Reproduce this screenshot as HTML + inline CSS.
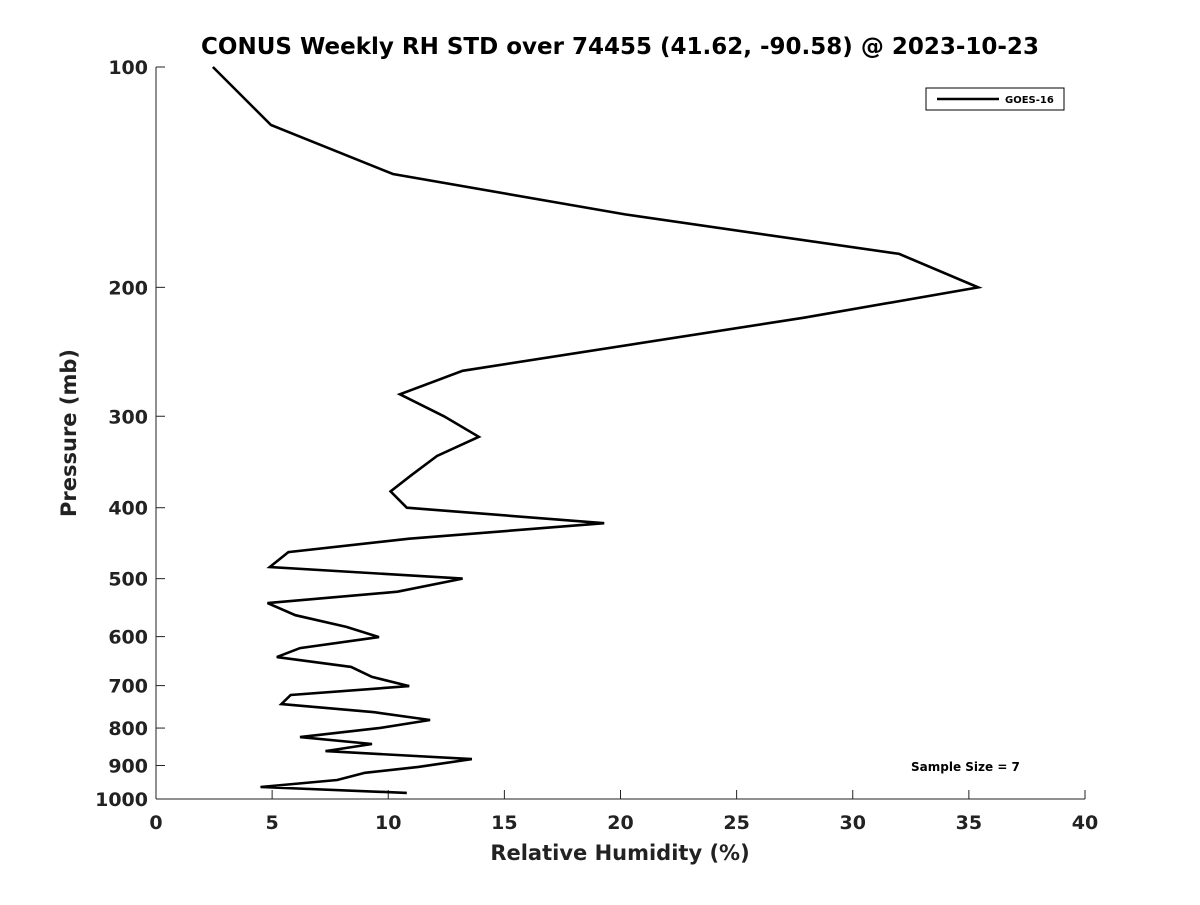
<!DOCTYPE html>
<html><head><meta charset="utf-8"><style>
body{margin:0;background:#fff}
svg text{font-family:"DejaVu Sans","Liberation Sans",sans-serif;font-weight:bold;fill:#222}
</style></head><body>
<svg id="chart" width="1200" height="900" xmlns="http://www.w3.org/2000/svg">
<rect width="1200" height="900" fill="#fff"/>
<text x="620" y="54" font-size="23" text-anchor="middle" style="fill:#000">CONUS Weekly RH STD over 74455 (41.62, -90.58) @ 2023-10-23</text>
<g id="axes"></g>
<text x="620" y="860" font-size="21" text-anchor="middle">Relative Humidity (%)</text>
<text transform="translate(76,433) rotate(-90)" font-size="21" text-anchor="middle">Pressure (mb)</text>
<g>
<rect x="926" y="88" width="138" height="22" fill="#fff" stroke="#000" stroke-width="1"/>
<line x1="937" y1="99" x2="999" y2="99" stroke="#000" stroke-width="2.5"/>
<text x="1005" y="103" font-size="10" style="fill:#000">GOES-16</text>
</g>
<text x="911" y="771" font-size="12" style="fill:#000">Sample Size = 7</text>
</svg>
<script>
const pressures=[100,120,140,159,180,200,220,260,280,300,320,340,361,380,400,420,441,460,482,500,521,540,561,582,601,622,640,660,681,701,721,742,761,780,800,823,841,860,882,904,921,942,963,981];
const rhValues=[2.45,4.95,10.2,20.2,32.0,35.4,27.9,13.2,10.5,12.4,13.9,12.1,11.0,10.1,10.8,19.3,10.9,5.7,4.9,13.2,10.4,4.8,6.0,8.2,9.6,6.2,5.2,8.4,9.3,10.9,5.8,5.4,9.4,11.8,9.6,6.2,9.3,7.3,13.6,11.3,9.0,7.8,4.5,10.8];
const xTicks=[0,5,10,15,20,25,30,35,40];
const yTicks=[100,200,300,400,500,600,700,800,900,1000];
const NS="http://www.w3.org/2000/svg";
const X0=156,X1=1085,Y0=67,Y1=799;
const xs=v=>X0+(v-0)/40*(X1-X0);
const ys=p=>Y0+(Math.log10(p)-2)*(Y1-Y0);
const svg=document.getElementById('chart');
const ax=document.getElementById('axes');
function mk(t,a,parent){const e=document.createElementNS(NS,t);for(const k in a)e.setAttribute(k,a[k]);(parent||ax).appendChild(e);return e;}
const xl=mk('line',{x1:X0,y1:Y1,x2:X1,y2:Y1,stroke:'#222','stroke-width':1});


const yl=mk('line',{x1:X0,y1:Y0,x2:X0,y2:Y1,stroke:'#222','stroke-width':1});


xTicks.forEach(v=>{
 const x=xs(v);
 const t=mk('line',{x1:x,y1:Y1,x2:x,y2:Y1-9,stroke:'#222','stroke-width':1});
 
 
 const l=mk('text',{x:x,y:Y1+30,'font-size':19,'text-anchor':'middle'});
 
 
 l.textContent=v;
});
yTicks.forEach(p=>{
 const y=ys(p);
 const t=mk('line',{x1:X0,y1:y,x2:X0+9,y2:y,stroke:'#222','stroke-width':1});
 
 
 const l=mk('text',{x:X0-8,y:y+7,'font-size':19,'text-anchor':'end'});
 
 
 l.textContent=p;
});
const pts=pressures.map((p,i)=>xs(rhValues[i]).toFixed(1)+','+ys(p).toFixed(1)).join(' ');
const line=mk('polyline',{points:pts,fill:'none',stroke:'#000','stroke-width':2.6,'stroke-linejoin':'miter'},svg);


</script>
</body></html>
